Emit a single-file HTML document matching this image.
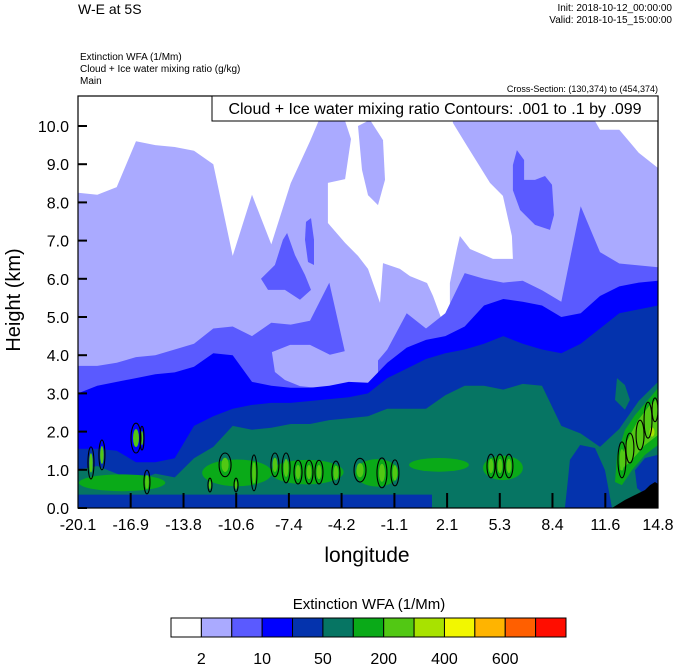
<!DOCTYPE html>
<html><head><meta charset="utf-8"><style>
html,body{margin:0;padding:0;background:#fff;}
svg{display:block;font-family:"Liberation Sans",Arial,sans-serif;}
</style></head><body>
<svg id="chart" width="674" height="667" viewBox="0 0 674 667" xmlns="http://www.w3.org/2000/svg">
<text x="78" y="14" font-size="14">W-E at 5S</text>
<text x="672" y="11" font-size="10" text-anchor="end">Init: 2018-10-12_00:00:00</text>
<text x="672" y="23" font-size="10" text-anchor="end">Valid: 2018-10-15_15:00:00</text>
<text x="80" y="60" font-size="10">Extinction WFA   (1/Mm)</text>
<text x="80" y="72" font-size="10">Cloud + Ice water mixing ratio   (g/kg)</text>
<text x="80" y="84" font-size="10">Main</text>
<text x="658" y="92" font-size="9" text-anchor="end">Cross-Section: (130,374) to (454,374)</text>
<defs><clipPath id="plotclip"><rect x="78" y="96" width="580" height="412"/></clipPath></defs>
<g id="plot" clip-path="url(#plotclip)"></g>
<rect x="78" y="96" width="580" height="412" fill="none" stroke="#000" stroke-width="1.2"/>
<g id="axes"></g>
<rect x="212" y="96" width="446" height="25" fill="#fff" stroke="#000" stroke-width="1"/>
<text x="435" y="114" font-size="16" text-anchor="middle">Cloud + Ice water mixing ratio Contours: .001 to .1 by .099</text>
<text transform="translate(20,300) rotate(-90)" font-size="20" text-anchor="middle">Height (km)</text>
<text x="367" y="562" font-size="21" text-anchor="middle">longitude</text>
<text x="369" y="609" font-size="15" text-anchor="middle">Extinction WFA  (1/Mm)</text>
<g id="legend"></g>
</svg>
<script>
const NS='http://www.w3.org/2000/svg';
// ---- data ----
const lons=[-20.1,-18.94,-17.77,-16.61,-15.45,-14.28,-13.12,-11.96,-10.79,-9.63,-8.47,-7.30,-6.14,-4.98,-3.81,-2.65,-1.49,-0.32,0.84,2.00,3.17,4.33,5.49,6.66,7.82,8.98,10.15,11.31,12.47,13.64,14.80];
const lavTop=[8.25,8.2,8.4,9.6,9.5,9.45,9.35,9.0,6.6,8.2,6.9,8.5,9.6,10.79,10.79,10.79,10.79,10.79,10.79,10.79,10.79,10.79,10.79,10.79,10.79,10.79,10.79,9.9,9.9,9.3,8.9];
const mbTop=[3.72,3.72,3.8,3.95,4.0,4.15,4.3,4.7,4.75,4.5,4.85,4.8,4.9,5.9,3.65,3.55,4.15,5.1,4.7,5.1,6.15,6.0,5.9,5.95,5.7,5.4,7.9,6.7,6.4,6.35,6.3];
const bTop=[3.0,3.2,3.3,3.4,3.5,3.55,3.7,4.05,4.0,3.3,3.2,3.15,3.15,3.2,3.3,3.28,3.8,4.2,4.4,4.5,4.75,5.3,5.47,5.4,5.3,5.0,5.1,5.55,5.8,5.9,5.95];
const dbTop=[1.55,1.55,1.5,1.2,1.2,1.3,2.15,2.4,2.6,2.7,2.75,2.75,2.8,2.85,2.9,3.0,3.4,3.65,3.9,4.05,4.15,4.3,4.5,4.3,4.15,4.05,4.3,4.7,5.1,5.2,5.3];
const tealTop=[1.0,1.1,0.9,0.7,0.9,0.8,1.3,1.6,2.15,2.05,2.1,2.2,2.2,2.3,2.35,2.4,2.6,2.6,2.6,2.95,3.2,3.2,3.1,3.25,3.2,2.15,1.95,1.6,2.07,2.8,3.3];
const whiteRegion=[[-4.03,10.79],[2.40,10.79],[2.46,10.08],[3.31,9.48],[4.69,8.51],[5.47,8.17],[6.01,7.12],[6.07,6.52],[4.87,6.52],[3.49,6.78],[2.88,7.12],[2.70,6.78],[2.28,5.89],[2.28,4.95],[1.86,4.84],[1.26,5.55],[0.90,5.89],[-0.12,6.07],[-0.73,6.26],[-1.75,6.41],[-1.93,5.37],[-2.35,5.89],[-2.65,6.26],[-3.25,6.60],[-4.03,6.94],[-5.06,7.46],[-5.06,8.51],[-4.03,8.61],[-3.67,9.66],[-4.03,10.13]];
const lavPatch=[[-3.25,10.0],[-2.53,10.16],[-1.75,9.63],[-1.63,8.59],[-2.05,7.93],[-2.65,8.19],[-3.01,8.85]];
const lavIsland=[[-8.43,4.08],[-7.34,4.27],[-6.14,4.27],[-4.94,4.01],[-3.73,4.14],[-2.05,4.27],[-2.05,3.30],[-3.73,3.19],[-5.54,3.14],[-6.74,3.19],[-7.65,3.35],[-8.25,3.56]];
const mbIslandEast=[[6.31,9.37],[6.74,9.11],[6.74,8.59],[7.40,8.59],[8.00,8.69],[8.42,8.46],[8.54,7.67],[8.30,7.28],[7.40,7.41],[6.50,7.80],[6.07,8.32],[6.07,8.98]];
const mbTriangle=[[-9.09,6.0],[-8.25,6.36],[-7.77,7.02],[-7.52,7.20],[-7.04,6.62],[-6.44,6.10],[-6.08,5.71],[-6.74,5.45],[-7.65,5.71],[-8.67,5.71]];
const mbFinger=[[-6.38,7.49],[-6.08,7.59],[-5.90,7.02],[-5.90,6.36],[-6.26,6.44],[-6.44,7.02]];
const tealIsland=[[12.33,3.40],[12.81,3.22],[13.11,2.83],[12.81,2.57],[12.21,2.83]];
const dbStrip=[[-20.1,0],[-20.1,0.35],[1.2,0.35],[1.2,0]];
const dbEast1=[[9.50,1.26],[10.11,1.65],[11.01,1.57],[11.61,0.99],[12.03,0],[9.20,0],[9.38,0.73]];
const dbEast2=[[13.41,0.99],[14.02,1.31],[14.80,1.39],[14.80,0.47],[14.02,0.34],[13.54,0.52]];
const greenPatches=[[-10.53,0.92,2.1,0.35],[-6.32,0.94,2.2,0.32],[-2.11,0.92,1.3,0.36],[1.62,1.13,1.8,0.18],[5.47,1.05,1.2,0.32],[-17.45,0.66,2.6,0.22]];
const greenEast=[[12.21,0.68],[12.33,1.39],[12.81,2.04],[13.41,2.43],[14.20,2.83],[14.80,3.14],[14.80,1.65],[14.02,1.39],[13.23,0.99],[12.63,0.60]];
const lightGreenEast=[[12.51,0.99],[12.81,1.65],[13.60,2.30],[14.32,2.70],[14.80,2.88],[14.80,1.91],[14.02,1.65],[13.11,1.20]];
const yellowSpots=[[14.44,1.99,0.15,0.12]];
const contours=[[-19.32,1.18,0.18,0.42],[-18.66,1.39,0.18,0.39],[-16.61,1.83,0.30,0.39],[-16.25,1.83,0.12,0.31],[-15.95,0.68,0.18,0.31],[-12.16,0.60,0.12,0.18],[-11.25,1.13,0.36,0.31],[-10.59,0.60,0.12,0.18],[-9.51,0.92,0.18,0.47],[-8.25,1.13,0.24,0.31],[-7.58,1.05,0.24,0.39],[-6.86,0.94,0.24,0.31],[-6.20,0.94,0.24,0.31],[-5.60,0.94,0.24,0.31],[-4.58,0.92,0.24,0.31],[-3.13,0.99,0.36,0.31],[-1.81,0.92,0.30,0.39],[-1.03,0.92,0.24,0.34],[4.75,1.10,0.24,0.31],[5.29,1.10,0.24,0.31],[5.83,1.10,0.24,0.31],[12.63,1.26,0.24,0.47],[13.11,1.57,0.24,0.39],[13.72,1.91,0.24,0.39],[14.20,2.30,0.24,0.47],[14.62,2.57,0.18,0.31]];
const terrain=[[12.03,0],[12.81,0.21],[13.41,0.34],[14.02,0.47],[14.32,0.60],[14.62,0.68],[14.80,0.63],[14.80,0]];
const xTickLabels=['-20.1','-16.9','-13.8','-10.6','-7.4','-4.2','-1.1','2.1','5.3','8.4','11.6','14.8'];
const xTickValues=[-20.1,-16.93,-13.75,-10.58,-7.41,-4.24,-1.06,2.11,5.28,8.45,11.63,14.8];
const yTickValues=[0,1,2,3,4,5,6,7,8,9,10];
const legendColors=['#ffffff','#aaaaff','#5a5aff','#0000ff','#0433ad','#067563','#0aaa18','#52c814','#a8e200','#f2f700','#ffb400','#ff5f00','#ff0d00'];
const legendLabels=['2','10','50','200','400','600'];
// ---- scales ----
const X0=78,X1=658,Y0=508,PXKM=38.2;
function xs(lon){return X0+(lon+20.1)/34.9*(X1-X0);}
function ys(km){return Y0-km*PXKM;}
const plot=document.getElementById('plot');
function add(parent,tag,attrs){const e=document.createElementNS(NS,tag);for(const k in attrs)e.setAttribute(k,attrs[k]);parent.appendChild(e);return e;}
function areaPath(tops){let d='M'+xs(lons[0])+','+ys(0);for(let i=0;i<lons.length;i++)d+='L'+xs(lons[i]).toFixed(1)+','+ys(tops[i]).toFixed(1);d+='L'+xs(lons[lons.length-1])+','+ys(0)+'Z';return d;}
function polyPts(arr){return arr.map(p=>xs(p[0]).toFixed(1)+','+ys(p[1]).toFixed(1)).join(' ');}
function area(tops,color,name){const e=add(plot,'path',{d:areaPath(tops),fill:color});

}
function poly(arr,color,name){const e=add(plot,'polygon',{points:polyPts(arr),fill:color});

}
function ell(a,fill,stroke,name,scale){const s=scale||1;const e=add(plot,'ellipse',{cx:xs(a[0]),cy:ys(a[1]),rx:a[2]/34.9*580*s,ry:a[3]*PXKM*s,fill:fill,stroke:stroke,'stroke-width':1.1});

}
add(plot,'rect',{x:78,y:96,width:580,height:412,fill:'#fff'});
area(lavTop,'#aaaaff','lavender-band');
poly(whiteRegion,'#ffffff','white-region');
poly(lavPatch,'#aaaaff','lavender-patch');
area(mbTop,'#5a5aff','medium-blue-band');
poly(mbIslandEast,'#5a5aff','medium-blue-island');
poly(mbTriangle,'#5a5aff','medium-blue-triangle');
poly(mbFinger,'#5a5aff','medium-blue-finger');
poly(lavIsland,'#aaaaff','lavender-island');
area(bTop,'#0000ff','blue-band');
area(dbTop,'#0433ad','dark-blue-band');
area(tealTop,'#067563','teal-band');
poly(tealIsland,'#067563','teal-island');
greenPatches.forEach(g=>ell(g,'#0aaa18','none','green-patch'));
poly(dbStrip,'#0433ad','dark-blue-strip');
poly(dbEast1,'#0433ad','dark-blue-east');
poly(dbEast2,'#0433ad','dark-blue-east-2');
poly(greenEast,'#0aaa18','green-east');
poly(lightGreenEast,'#52c814','light-green-east');
yellowSpots.forEach(g=>ell(g,'#a8e200','none','yellow-green-spot'));
contours.forEach(c=>ell(c,'#52c814','none','contour-fill',0.6));
contours.forEach(c=>ell(c,'none','#000','cloud-contour'));
poly(terrain,'#000000','terrain');
// axes
const axes=document.getElementById('axes');
yTickValues.forEach(v=>{
 const t=add(axes,'line',{x1:X0,x2:X0+9,y1:ys(v),y2:ys(v),stroke:'#000','stroke-width':2});
 
 
 const l=add(axes,'text',{x:69,y:ys(v)+6,'font-size':16,'text-anchor':'end'});l.textContent=v.toFixed(1);
 
 
});
xTickValues.forEach((v,i)=>{
 if(i>0&&i<xTickValues.length-1){const t=add(axes,'line',{x1:xs(v),x2:xs(v),y1:Y0,y2:Y0-15,stroke:'#000','stroke-width':2});
 
 }
 const l=add(axes,'text',{x:xs(v),y:530,'font-size':16,'text-anchor':'middle'});l.textContent=xTickLabels[i];
 
 
});
// legend
const lg=document.getElementById('legend');const LX=171,LW=395/13;
legendColors.forEach((c,i)=>{const r=add(lg,'rect',{x:LX+i*LW,y:618,width:LW,height:19,fill:c,stroke:'#000','stroke-width':1});
 
 });
legendLabels.forEach((s,i)=>{const t=add(lg,'text',{x:LX+(2*i+1)*LW,y:664,'font-size':16,'text-anchor':'middle'});t.textContent=s;
 
 });
</script>
</body></html>
